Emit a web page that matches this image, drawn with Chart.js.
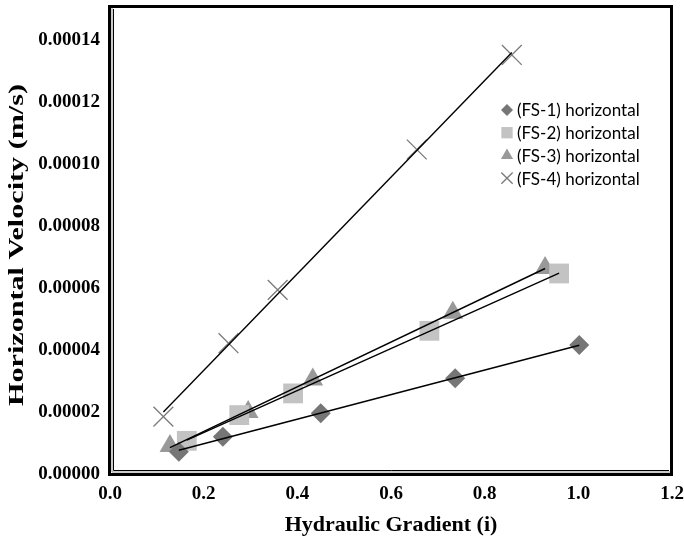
<!DOCTYPE html>
<html>
<head>
<meta charset="utf-8">
<script src="https://cdn.jsdelivr.net/npm/chart.js@4/dist/chart.umd.min.js"></script>
<style>
  html, body { margin: 0; padding: 0; background: #fff; }
  #wrap { width: 684px; height: 541px; }
</style>
</head>
<body>
<div id="wrap"><canvas id="chart" width="684" height="541"></canvas></div>
<script>
// hydraulic gradient (i) vs horizontal velocity (m/s) per sample
const gradFS1 = [0.147, 0.241, 0.450, 0.737, 1.002];
const velFS1  = [0.0000072, 0.0000120, 0.0000196, 0.0000309, 0.0000416];

const gradFS2 = [0.164, 0.276, 0.391, 0.682, 0.959];
const velFS2  = [0.0000107, 0.0000190, 0.0000260, 0.0000462, 0.0000647];

const gradFS3 = [0.128, 0.295, 0.433, 0.732, 0.929];
const velFS3  = [0.0000090, 0.0000200, 0.0000305, 0.0000520, 0.0000665];

const gradFS4 = [0.114, 0.253, 0.358, 0.655, 0.858];
const velFS4  = [0.0000185, 0.0000422, 0.0000594, 0.0001047, 0.0001352];

const seriesNames = ["(FS-1) horizontal", "(FS-2) horizontal", "(FS-3) horizontal", "(FS-4) horizontal"];

const xTicks = [0, 0.2, 0.4, 0.6, 0.8, 1.0, 1.2];
const yStep  = 0.00002;

const markerStyles = [
  { pointStyle: "rectRot",  radius: 10, fill: "#767676", stroke: "#767676", width: 0,   legendRadius: 6 },
  { pointStyle: "rect",     radius: 14, fill: "#c3c3c3", stroke: "#c3c3c3", width: 0,   legendRadius: 8 },
  { pointStyle: "triangle", radius: 12, fill: "#999999", stroke: "#999999", width: 0,   legendRadius: 7 },
  { pointStyle: "crossRot", radius: 14, fill: "#7a7a7a", stroke: "#7a7a7a", width: 1.3, legendRadius: 8 },
];

const grads = [gradFS1, gradFS2, gradFS3, gradFS4];
const vels  = [velFS1, velFS2, velFS3, velFS4];

// least-squares line across the data range of one series
function trendline(xs, ys) {
  const n = xs.length;
  const mx = xs.reduce((a, b) => a + b, 0) / n;
  const my = ys.reduce((a, b) => a + b, 0) / n;
  let sxy = 0, sxx = 0;
  xs.forEach((x, i) => { sxy += (x - mx) * (ys[i] - my); sxx += (x - mx) * (x - mx); });
  const k = sxy / sxx, b = my - k * mx;
  const x0 = Math.min(...xs), x1 = Math.max(...xs);
  return [{ x: x0, y: k * x0 + b }, { x: x1, y: k * x1 + b }];
}

const datasets = [];
grads.forEach((xs, i) => {
  datasets.push({
    label: "trend " + (i + 1),
    data: trendline(xs, vels[i]),
    showLine: true,
    borderColor: "#000",
    borderWidth: 1.4,
    pointRadius: 0,
    order: 0,
  });
});
grads.forEach((xs, i) => {
  const m = markerStyles[i];
  datasets.push({
    label: seriesNames[i],
    data: xs.map((x, j) => ({ x, y: vels[i][j] })),
    showLine: false,
    pointStyle: m.pointStyle,
    pointRadius: m.radius,
    pointBackgroundColor: m.fill,
    pointBorderColor: m.stroke,
    pointBorderWidth: m.width,
    order: 1,
  });
});

const serif = "'Liberation Serif', 'Times New Roman', serif";

// scales shouldn't push the plot area in for their edge labels
const noEdgePadding = {
  id: "noEdgePadding",
  beforeLayout(chart) {
    Object.values(chart.scales).forEach(s => {
      s.getPadding = () => ({ left: 0, top: 0, right: 0, bottom: 0 });
    });
  }
};

// double frame around the plot area, legend inside it, tall y title
const framePlugin = {
  id: "frameAndLegend",
  afterDraw(chart) {
    const { ctx, chartArea: a } = chart;
    ctx.save();
    ctx.strokeStyle = "#000";
    ctx.lineWidth = 3;
    ctx.strokeRect(a.left - 0.5, a.top + 0.5, a.right - a.left, a.bottom - a.top);
    ctx.lineWidth = 1;
    ctx.strokeStyle = "#9a9a9a";
    ctx.beginPath();
    ctx.moveTo(a.left + 2, a.top + 2);
    ctx.lineTo(a.left + 2, a.bottom - 2);
    ctx.lineTo(a.right - 2, a.bottom - 2);
    ctx.stroke();
    ctx.strokeStyle = "#000";
    ctx.beginPath();
    ctx.moveTo(a.left + 3.5, a.top + 3);
    ctx.lineTo(a.left + 3.5, a.bottom - 3.5);
    ctx.lineTo(a.right - 3, a.bottom - 3.5);
    ctx.stroke();

    // legend
    const lx = 507, ly = 110, row = 22.7;
    ctx.font = "17px Lato, 'Liberation Sans', sans-serif";
    ctx.textBaseline = "middle";
    ctx.textAlign = "left";
    seriesNames.forEach((name, i) => {
      const m = markerStyles[i];
      const y = ly + i * row;
      ctx.fillStyle = m.fill;
      ctx.strokeStyle = m.stroke;
      ctx.lineWidth = m.width || 1;
      Chart.helpers.drawPoint(ctx, {
        pointStyle: m.pointStyle, radius: m.legendRadius, rotation: 0, borderWidth: m.width,
      }, lx, y);
      ctx.fillStyle = "#000";
      ctx.fillText(name, lx + 10, y + 1);
    });

    // y axis title, stretched along its length
    const title = "Horizontal Velocity (m/s)";
    ctx.font = "bold 21px " + serif;
    const w = ctx.measureText(title).width;
    ctx.translate(18, 245);
    ctx.rotate(-Math.PI / 2);
    ctx.scale(322 / w, 1);
    ctx.fillStyle = "#000";
    ctx.textAlign = "center";
    ctx.textBaseline = "middle";
    ctx.fillText(title, 0, 0);
    ctx.restore();
  }
};

const tickFont  = { family: serif, weight: "bold", size: 19 };
const titleFont = { family: serif, weight: "bold", size: 22 };

new Chart(document.getElementById("chart"), {
  type: "scatter",
  data: { datasets },
  plugins: [noEdgePadding, framePlugin],
  options: {
    responsive: false,
    animation: false,
    layout: { autoPadding: false, padding: { top: 6, right: 12, left: 0, bottom: 0 } },
    plugins: { legend: { display: false }, tooltip: { enabled: false } },
    scales: {
      x: {
        type: "linear",
        min: xTicks[0], max: xTicks[xTicks.length - 1],
        afterBuildTicks: s => { s.ticks = xTicks.map(v => ({ value: v })); },
        afterFit: s => { s.height = 67; },
        grid: { display: false, drawTicks: false },
        border: { display: false },
        ticks: { color: "#000", font: tickFont, padding: 9, maxRotation: 0,
                 callback: v => Number(v).toFixed(1) },
        title: { display: true, text: "Hydraulic Gradient (i)", color: "#000", font: titleFont,
                 padding: { top: 8, bottom: 2 } },
      },
      y: {
        type: "linear",
        min: 0, max: 0.000151,
        afterFit: s => { s.width = 110; },
        grid: { display: false, drawTicks: false },
        border: { display: false },
        ticks: { color: "#000", font: tickFont, padding: 10, stepSize: yStep, includeBounds: false,
                 callback: v => Number(v).toFixed(5) },
      },
    },
  },
});
</script>
</body>
</html>
